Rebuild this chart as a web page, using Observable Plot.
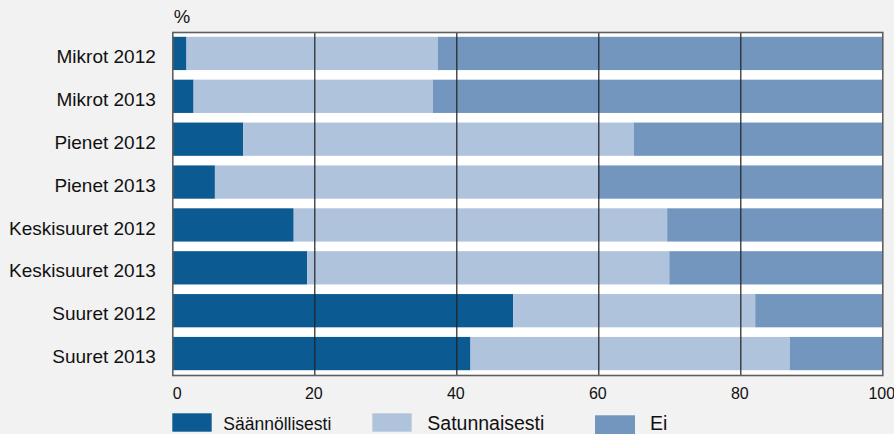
<!DOCTYPE html>
<html>
<head>
<meta charset="utf-8">
<script src="https://cdn.jsdelivr.net/npm/d3@7"></script>
<script src="https://cdn.jsdelivr.net/npm/@observablehq/plot@0.6"></script>
<style>
  html, body { margin: 0; padding: 0; background: #f2f2f2; }
  #chart { width: 894px; font-family: "Liberation Sans", Arial, sans-serif; }
  #chart svg { display: block; overflow: visible; }
</style>
</head>
<body>
<div id="chart"></div>
<script>
const categories = ["Mikrot 2012", "Mikrot 2013", "Pienet 2012", "Pienet 2013",
  "Keskisuuret 2012", "Keskisuuret 2013", "Suuret 2012", "Suuret 2013"];
const seriesNames = ["Säännöllisesti", "Satunnaisesti", "Ei"];
const saannollisesti = [2, 3, 10, 6, 17.1, 19, 48, 42];
const satunnaisesti = [35.4, 33.7, 55, 54, 52.6, 51, 34.1, 45];
const ei = [62.6, 63.3, 35, 40, 30.3, 30, 17.9, 13];
const xTicks = [0, 20, 40, 60, 80, 100];
const gridTicks = [20, 40, 60, 80];
const unitLabel = "%";

const colors = ["#0b5a91", "#b0c3dc", "#7396bf"];

const seriesValues = [saannollisesti, satunnaisesti, ei];
const data = [];
categories.forEach((c, i) => {
  seriesNames.forEach((s, j) => data.push({category: c, series: s, value: seriesValues[j][i]}));
});

const chart = Plot.plot({
  width: 894,
  height: 405,
  marginLeft: 172.3,
  marginRight: 11.7,
  marginTop: 32,
  marginBottom: 30,
  style: {background: "none", fontFamily: "'Liberation Sans', Arial, sans-serif", color: "#111"},
  x: {domain: [0, 100]},
  y: {domain: categories, paddingInner: 0.224, paddingOuter: 0.112, round: false},
  color: {domain: seriesNames, range: colors},
  marks: [
    Plot.frame({fill: "white", stroke: "none"}),
    Plot.barX(data, Plot.stackX({
      x: "value", y: "category", fill: "series", z: "series", order: seriesNames
    })),
    Plot.ruleX(gridTicks, {stroke: "#222", strokeWidth: 1.2}),
    Plot.frame({stroke: "#5f5f5f", strokeWidth: 1.6}),
    Plot.axisY({tickSize: 0, tickPadding: 17, fontSize: 19, dy: 3, label: null}),
    Plot.axisX([xTicks[0]], {tickSize: 0, tickPadding: 12, fontSize: 16, textAnchor: "start", label: null}),
    Plot.axisX(xTicks.slice(1), {tickSize: 0, tickPadding: 12, fontSize: 16, dx: -1, label: null}),
    Plot.text([unitLabel], {text: d => d, frameAnchor: "top-left", textAnchor: "start",
      lineAnchor: "middle", dy: -15, dx: 1, fontSize: 18.5})
  ]
});
document.getElementById("chart").appendChild(chart);

// Legend below the plot SVG (plot SVG is 405 px tall)
const legendPos = [
  {x: 172.3, y: 8.3, w: 39.4, h: 18.4, tx: 223.3, ty: 25, fs: 17.5},
  {x: 372.3, y: 8.3, w: 39.4, h: 18.4, tx: 427.3, ty: 25, fs: 19.5},
  {x: 595, y: 10.3, w: 40, h: 18.7, tx: 650, ty: 25, fs: 19.5}
];
const legend = d3.select("#chart").append("svg")
  .attr("width", 894).attr("height", 29);
seriesNames.forEach((name, i) => {
  const p = legendPos[i];
  legend.append("rect").attr("x", p.x).attr("y", p.y).attr("width", p.w).attr("height", p.h)
    .attr("fill", colors[i]);
  legend.append("text").attr("x", p.tx).attr("y", p.ty)
    .attr("font-family", "'Liberation Sans', Arial, sans-serif")
    .attr("font-size", p.fs).attr("fill", "#111").text(name);
});
</script>
</body>
</html>
